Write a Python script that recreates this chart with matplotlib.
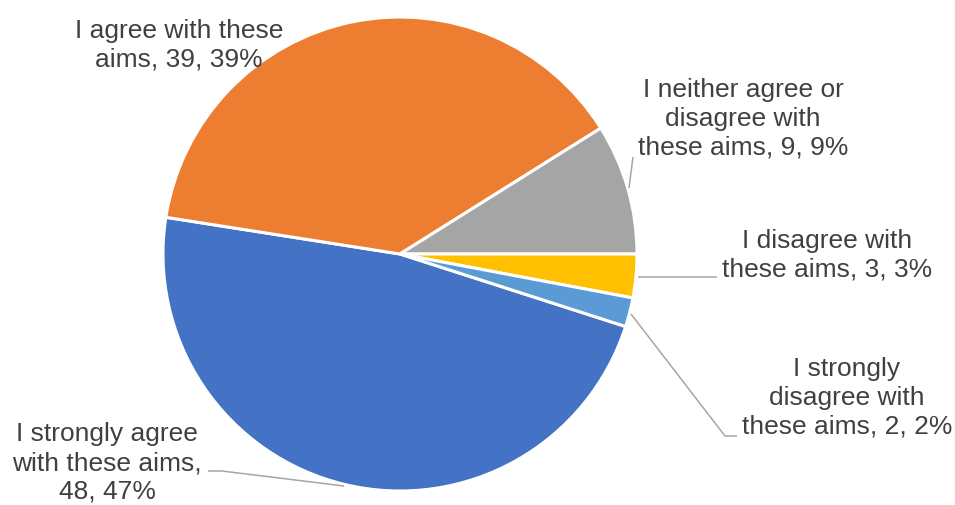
import matplotlib
matplotlib.use("Agg")
import matplotlib.pyplot as plt

categories = [
    "I strongly agree with these aims",
    "I agree with these aims",
    "I neither agree or disagree with these aims",
    "I disagree with these aims",
    "I strongly disagree with these aims",
]
values = [48, 39, 9, 3, 2]
pct_labels = ["47%", "39%", "9%", "3%", "2%"]
label_texts = [
    "I strongly agree\nwith these aims,\n48, 47%",
    "I agree with these\naims, 39, 39%",
    "I neither agree or\ndisagree with\nthese aims, 9, 9%",
    "I disagree with\nthese aims, 3, 3%",
    "I strongly\ndisagree with\nthese aims, 2, 2%",
]
colors = ["#4472C4", "#ED7D31", "#A5A5A5", "#FFC000", "#5B9BD5"]

W, H = 955, 505
fig = plt.figure(figsize=(W / 100, H / 100), dpi=100)
ax = fig.add_axes([0, 0, 1, 1])
ax.set_xlim(0, W)
ax.set_ylim(0, H)
ax.set_aspect("equal")
ax.axis("off")

def Y(y):
    return H - y

cx, cy, r = 400, 254, 237
start = -360 * (values[3] + values[4]) / sum(values)
ax.pie(values, colors=colors, startangle=start, counterclock=False,
       center=(cx, Y(cy)), radius=r, frame=True,
       wedgeprops=dict(edgecolor="white", linewidth=2.2))
ax.set_xlim(0, W)
ax.set_ylim(0, H)
ax.axis("off")

# label positions (pixel coords: center x, block center y)
label_pos = [(107, 463), (179, 45), (743, 119), (827, 255), (847, 398)]
for (x, y), t in zip(label_pos, label_texts):
    ax.text(x, Y(y), t, ha="center", va="center", multialignment="center",
            fontsize=19, color="#404040", family="Liberation Sans",
            linespacing=1.26)

leaders = [
    [(344, 486), (222, 471), (208, 471)],
    [(633, 157), (629, 188)],
    [(638, 277), (717, 277)],
    [(631, 314), (725, 436), (737, 436)],
]
for pts in leaders:
    ax.plot([p[0] for p in pts], [Y(p[1]) for p in pts], color="#A6A6A6",
            lw=1.1, solid_capstyle="butt")

fig.savefig("out.png", dpi=100, facecolor="white")
